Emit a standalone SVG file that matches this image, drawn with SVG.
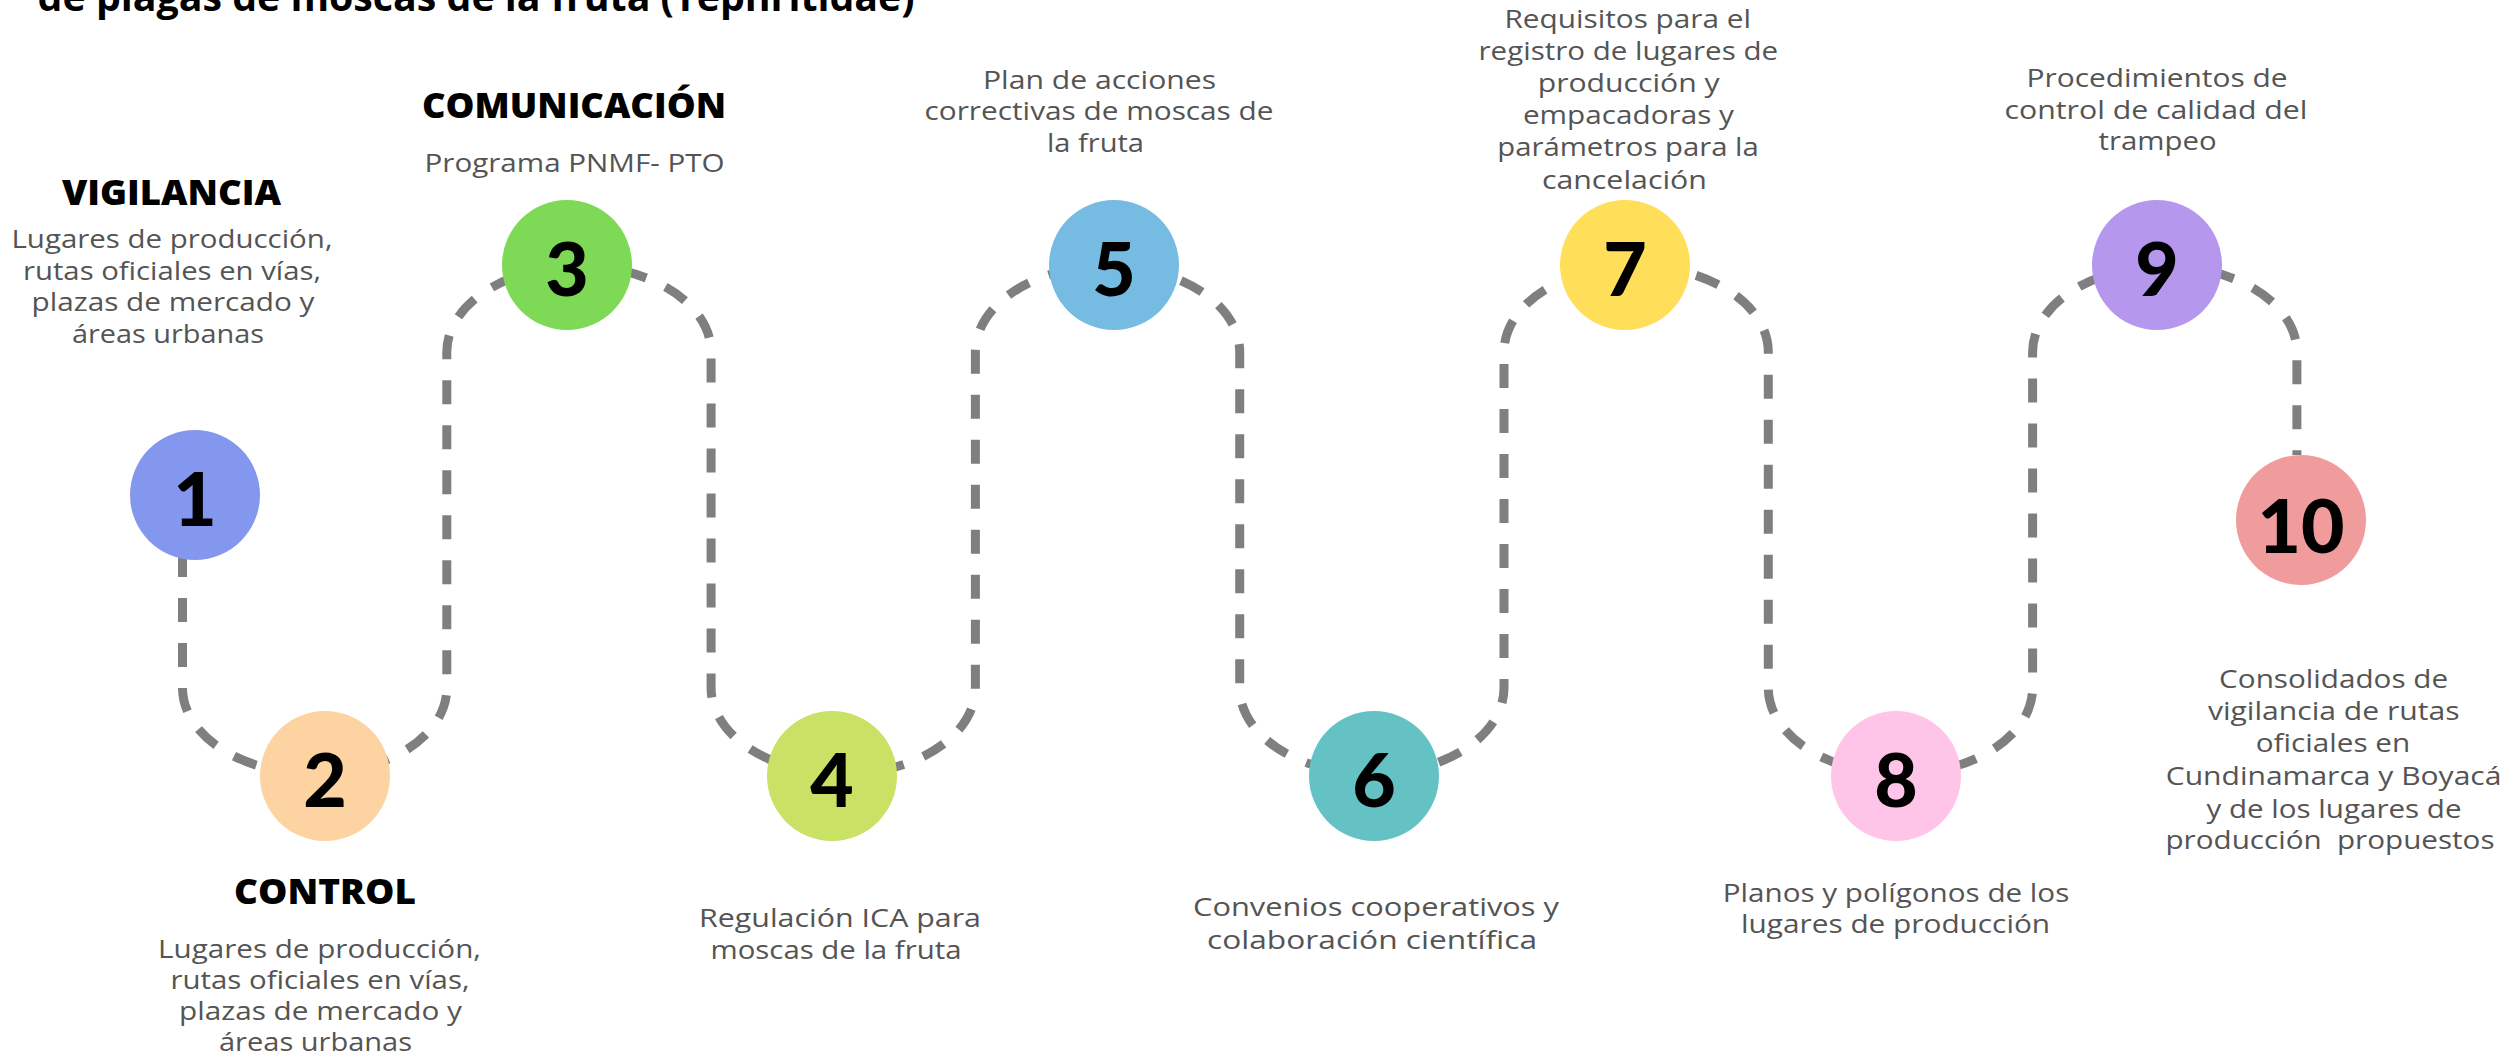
<svg xmlns="http://www.w3.org/2000/svg" width="2506" height="1058" viewBox="0 0 2506 1058">
<style>
.num{font-family:Lato,"Open Sans","Liberation Sans",sans-serif;font-weight:900;font-size:75px;fill:#000;text-anchor:middle}
.body{font-family:"Open Sans","Liberation Sans",sans-serif;font-size:25px;fill:#545454;text-anchor:middle}
.head{font-family:"Open Sans","Liberation Sans",sans-serif;font-weight:800;font-size:35px;fill:#000;text-anchor:middle}
.title{font-family:"Open Sans","Liberation Sans",sans-serif;font-weight:700;font-size:40px;fill:#000}
.path{fill:none;stroke:#7f7f7f;stroke-width:9;stroke-dasharray:24 21;stroke-dashoffset:32}
</style>
<rect width="2506" height="1058" fill="#fff"/>
<text class="title" x="37.6" y="11" textLength="877" lengthAdjust="spacingAndGlyphs">de plagas de moscas de la fruta (Tephritidae)</text>
<g id="connectors">
<path class="path" d="M182.5,495 V688 A132.15,86 0 0 0 446.8,688 V352 A132.15,86 0 0 1 711.1,352 V688 A132.15,86 0 0 0 975.4,688 V352 A132.15,86 0 0 1 1239.7,352 V688 A132.15,86 0 0 0 1504,688 V352 A132.15,86 0 0 1 1768.3,352 V688 A132.15,86 0 0 0 2032.6,688 V352 A132.15,86 0 0 1 2296.9,352 V455"/>
</g>
<g id="node-1">
<circle cx="195" cy="495" r="65" fill="#8497ee"/>
<text class="num" x="195" y="526">1</text>
<text class="head" x="171.5" y="205" textLength="219" lengthAdjust="spacingAndGlyphs">VIGILANCIA</text>
<text class="body" x="172" y="248" textLength="321" lengthAdjust="spacingAndGlyphs">Lugares de producción,</text>
<text class="body" x="172" y="279.5" textLength="298" lengthAdjust="spacingAndGlyphs">rutas oficiales en vías,</text>
<text class="body" x="173" y="311" textLength="283" lengthAdjust="spacingAndGlyphs">plazas de mercado y</text>
<text class="body" x="168" y="342.5" textLength="192" lengthAdjust="spacingAndGlyphs">áreas urbanas</text>
</g>
<g id="node-2">
<circle cx="325" cy="776" r="65" fill="#fdd3a1"/>
<text class="num" x="325" y="807">2</text>
<text class="head" x="325" y="904" textLength="182" lengthAdjust="spacingAndGlyphs">CONTROL</text>
<text class="body" x="319.5" y="957.5" textLength="323" lengthAdjust="spacingAndGlyphs">Lugares de producción,</text>
<text class="body" x="320" y="988.5" textLength="299" lengthAdjust="spacingAndGlyphs">rutas oficiales en vías,</text>
<text class="body" x="320.5" y="1019.5" textLength="283" lengthAdjust="spacingAndGlyphs">plazas de mercado y</text>
<text class="body" x="315.5" y="1051" textLength="193" lengthAdjust="spacingAndGlyphs">áreas urbanas</text>
</g>
<g id="node-3">
<circle cx="567" cy="265" r="65" fill="#7ed957"/>
<text class="num" x="567" y="296">3</text>
<text class="head" x="574" y="118" textLength="304" lengthAdjust="spacingAndGlyphs">COMUNICACIÓN</text>
<text class="body" x="574.5" y="171.5" textLength="300" lengthAdjust="spacingAndGlyphs">Programa PNMF- PTO</text>
</g>
<g id="node-4">
<circle cx="832" cy="776" r="65" fill="#c9e265"/>
<text class="num" x="832" y="807">4</text>
<text class="body" x="840" y="927" textLength="282" lengthAdjust="spacingAndGlyphs">Regulación ICA para</text>
<text class="body" x="836" y="958.5" textLength="251" lengthAdjust="spacingAndGlyphs">moscas de la fruta</text>
</g>
<g id="node-5">
<circle cx="1114" cy="265" r="65" fill="#75bbe2"/>
<text class="num" x="1114" y="296">5</text>
<text class="body" x="1099.5" y="88.5" textLength="233" lengthAdjust="spacingAndGlyphs">Plan de acciones</text>
<text class="body" x="1099" y="120.3" textLength="349" lengthAdjust="spacingAndGlyphs">correctivas de moscas de</text>
<text class="body" x="1095.5" y="152" textLength="97" lengthAdjust="spacingAndGlyphs">la fruta</text>
</g>
<g id="node-6">
<circle cx="1374" cy="776" r="65" fill="#64c2c5"/>
<text class="num" x="1374" y="807">6</text>
<text class="body" x="1376" y="916" textLength="366" lengthAdjust="spacingAndGlyphs">Convenios cooperativos y</text>
<text class="body" x="1372" y="949" textLength="330" lengthAdjust="spacingAndGlyphs">colaboración científica</text>
</g>
<g id="node-7">
<circle cx="1625" cy="265" r="65" fill="#ffde59"/>
<text class="num" x="1625" y="296">7</text>
<text class="body" x="1627.7" y="28" textLength="246.6" lengthAdjust="spacingAndGlyphs">Requisitos para el</text>
<text class="body" x="1628.3" y="60.1" textLength="299.6" lengthAdjust="spacingAndGlyphs">registro de lugares de</text>
<text class="body" x="1628.7" y="92.2" textLength="182" lengthAdjust="spacingAndGlyphs">producción y</text>
<text class="body" x="1628.4" y="124.3" textLength="211" lengthAdjust="spacingAndGlyphs">empacadoras y</text>
<text class="body" x="1628" y="156.4" textLength="261.5" lengthAdjust="spacingAndGlyphs">parámetros para la</text>
<text class="body" x="1624.4" y="188.5" textLength="165" lengthAdjust="spacingAndGlyphs">cancelación</text>
</g>
<g id="node-8">
<circle cx="1896" cy="776" r="65" fill="#ffc5e8"/>
<text class="num" x="1896" y="807">8</text>
<text class="body" x="1896" y="901.5" textLength="346.5" lengthAdjust="spacingAndGlyphs">Planos y polígonos de los</text>
<text class="body" x="1895.6" y="933" textLength="309" lengthAdjust="spacingAndGlyphs">lugares de producción</text>
</g>
<g id="node-9">
<circle cx="2157" cy="265" r="65" fill="#b597ed"/>
<text class="num" x="2157" y="296">9</text>
<text class="body" x="2157" y="87" textLength="261" lengthAdjust="spacingAndGlyphs">Procedimientos de</text>
<text class="body" x="2156" y="119" textLength="303" lengthAdjust="spacingAndGlyphs">control de calidad del</text>
<text class="body" x="2157.6" y="150" textLength="118" lengthAdjust="spacingAndGlyphs">trampeo</text>
</g>
<g id="node-10">
<circle cx="2301" cy="520" r="65" fill="#f09c9c"/>
<text class="num" x="2301" y="553">10</text>
<text class="body" x="2333.6" y="687.5" textLength="229" lengthAdjust="spacingAndGlyphs">Consolidados de</text>
<text class="body" x="2333.7" y="719.8" textLength="251.6" lengthAdjust="spacingAndGlyphs">vigilancia de rutas</text>
<text class="body" x="2333" y="751.7" textLength="154.5" lengthAdjust="spacingAndGlyphs">oficiales en</text>
<text class="body" x="2333.6" y="785" textLength="335.7" lengthAdjust="spacingAndGlyphs">Cundinamarca y Boyacá</text>
<text class="body" x="2334" y="817.5" textLength="255" lengthAdjust="spacingAndGlyphs">y de los lugares de</text>
<text class="body" x="2330" y="849" textLength="329" lengthAdjust="spacingAndGlyphs" xml:space="preserve">producción  propuestos</text>
</g>
</svg>
